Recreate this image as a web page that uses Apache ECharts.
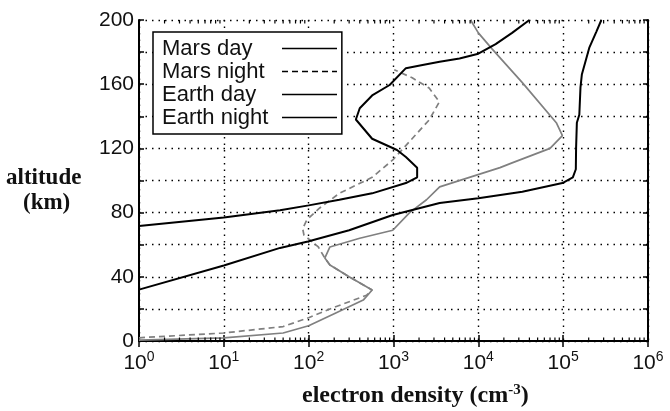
<!DOCTYPE html>
<html><head><meta charset="utf-8">
<script src="https://cdn.jsdelivr.net/npm/echarts@6/dist/echarts.min.js"></script>
<style>html,body{margin:0;padding:0;background:#fff}#c{width:670px;height:411px}</style>
</head><body><div id="c"></div>
<script>
// ---- data (electron density cm^-3, altitude km) ----
const seriesNames = ['Mars day', 'Mars night', 'Earth day', 'Earth night'];
const marsDay = [[1,0.5],[10,2],[50,5],[100,9.5],[200,17],[440,25.5],[560,31.8],[300,40],[178,47.4],[155,51.7],[178,58.6],[400,64],[980,69],[1550,80],[2450,88],[3500,96],[1.8e4,108],[2.5e4,111],[7.0e4,120],[9.8e4,128],[8.3e4,136],[3.3e4,161],[1.45e4,182],[1.0e4,192],[8.1e3,200]];
const marsNight = [[1,2],[10,5],[50,9],[100,14.5],[200,21],[480,28.5],[560,31.8],[300,40],[178,47.4],[155,51.7],[130,58.6],[88,66],[85,70],[95,75.4],[135,82.9],[230,92],[560,102],[980,112.8],[2630,137.7],[3470,149],[2630,157.6],[1660,164],[1020,169]];
const earthDay = [[1,32],[10,47],[46,58],[98,62],[300,69],[980,78.5],[3500,86],[1.0e4,89],[3.3e4,93],[9.8e4,98.4],[1.3e5,102],[1.41e5,107],[1.42e5,120],[1.45e5,136],[1.55e5,141],[1.6e5,158],[1.66e5,166],[2.04e5,183],[2.45e5,192.5],[2.82e5,200]];
const earthNight = [[1,71.6],[10,77],[46,81.5],[100,84.5],[230,88],[560,92],[1400,98.4],[1900,102],[1900,108],[1400,114.6],[1100,119],[560,126],[360,138],[400,145],[560,153],[900,159.5],[1400,170],[2200,172],[3500,174],[6000,176],[1.0e4,179],[1.6e4,185],[2.5e4,192],[4.0e4,200]];
const yLabelValues = [0, 40, 80, 120, 160, 200];
const minorMantissas = [2,3,4,5,6,7,8,9];
const decades = [1,10,100,1000,1e4,1e5];

const minorTicks = [];
decades.forEach(d => minorMantissas.forEach(m => minorTicks.push([m * d, 0])));

const chart = echarts.init(document.getElementById('c'), null, {renderer: 'canvas'});
const gridLine = {show: true, lineStyle: {color: '#000', width: 1.4, type: [1.5, 5]}};
const sans = 'Liberation Sans, Arial, sans-serif';
const serif = 'Liberation Serif, Times New Roman, serif';

const option = {
  animation: false,
  backgroundColor: '#fff',
  grid: {left: 139, right: 22, top: 20, bottom: 70, containLabel: false},
  xAxis: [{
    type: 'log', logBase: 10, min: 1, max: 1e6, splitNumber: 6,
    axisLine: {show: true, lineStyle: {color: '#000', width: 2}},
    axisTick: {show: true, inside: true, length: 6, lineStyle: {color: '#000', width: 1.5}},
    splitLine: gridLine,
    axisLabel: {
      margin: 9, color: '#111',
      formatter: v => '{b|10}{s|' + Math.round(Math.log10(v)) + '}',
      rich: {
        b: {fontSize: 21, fontFamily: sans, color: '#111'},
        s: {fontSize: 14, fontFamily: sans, color: '#111', padding: [0, 0, 12, 0]}
      }
    }
  }, {
    type: 'log', logBase: 10, min: 1, max: 1e6, splitNumber: 6, position: 'top',
    axisLine: {show: true, lineStyle: {color: '#000', width: 2}},
    axisTick: {show: true, inside: true, length: 6, lineStyle: {color: '#000', width: 1.5}},
    splitLine: {show: false}, axisLabel: {show: false}
  }],
  yAxis: [{
    type: 'value', min: 0, max: 200, interval: 20,
    axisLine: {show: true, lineStyle: {color: '#000', width: 2}},
    axisTick: {show: true, inside: true, length: 5, lineStyle: {color: '#000', width: 1.5}},
    splitLine: gridLine,
    axisLabel: {
      margin: 5, fontSize: 21, fontFamily: sans, color: '#111',
      formatter: v => yLabelValues.includes(v) ? String(v) : ''
    }
  }, {
    type: 'value', min: 0, max: 200, interval: 20, position: 'right',
    axisLine: {show: true, lineStyle: {color: '#000', width: 2}},
    axisTick: {show: true, inside: true, length: 5, lineStyle: {color: '#000', width: 1.5}},
    splitLine: {show: false}, axisLabel: {show: false}
  }],
  legend: {
    orient: 'vertical', left: 153, top: 32, align: 'right',
    data: seriesNames,
    backgroundColor: '#fff', borderColor: '#000', borderWidth: 1.5,
    padding: [5, 4, 5, 9], itemGap: 0, itemWidth: 55, itemHeight: 14,
    lineStyle: {color: '#000', width: 1.7},
    itemStyle: {opacity: 0},
    formatter: name => '{t|' + name + '}',
    textStyle: {
      fontSize: 22, fontFamily: sans, color: '#111', lineHeight: 23,
      rich: {t: {width: 115, align: 'left', fontSize: 22, fontFamily: sans, color: '#111', lineHeight: 23}}
    }
  },
  graphic: [
    {type: 'text', left: 6, top: 167, style: {text: 'altitude', font: 'bold 23px ' + serif, fill: '#111'}},
    {type: 'text', left: 23, top: 192, style: {text: '(km)', font: 'bold 23px ' + serif, fill: '#111'}},
    {type: 'text', left: 302, top: 383, style: {
      text: 'electron density (cm{sup|-3})',
      font: 'bold 24px ' + serif, fill: '#111',
      rich: {sup: {fontSize: 15, fontWeight: 'bold', fontFamily: serif, color: '#111', padding: [0, 0, 10, 0]}}
    }}
  ],
  series: [
    {name: 'Mars day', type: 'line', data: marsDay, symbol: 'none', lineStyle: {color: '#808080', width: 1.7}, itemStyle: {color: '#808080'}, z: 3},
    {name: 'Mars night', type: 'line', data: marsNight, symbol: 'none', lineStyle: {color: '#808080', width: 1.7, type: [6, 4]}, itemStyle: {color: '#808080'}, z: 3},
    {name: 'Earth day', type: 'line', data: earthDay, symbol: 'none', lineStyle: {color: '#000', width: 2}, itemStyle: {color: '#000'}, z: 4},
    {name: 'Earth night', type: 'line', data: earthNight, symbol: 'none', lineStyle: {color: '#000', width: 2}, itemStyle: {color: '#000'}, z: 4},
    {
      type: 'custom', name: 'minor', silent: true, clip: false, z: 6,
      data: minorTicks, encode: {x: 0, y: 1},
      renderItem: function (params, api) {
        const b = api.coord([api.value(0), 0]);
        const t = api.coord([api.value(0), 200]);
        return {type: 'group', children: [
          {type: 'line', shape: {x1: b[0], y1: b[1], x2: b[0], y2: b[1] - 3.5}, style: {stroke: '#000', lineWidth: 1.2}},
          {type: 'line', shape: {x1: t[0], y1: t[1], x2: t[0], y2: t[1] + 3.5}, style: {stroke: '#000', lineWidth: 1.2}}
        ]};
      }
    }
  ]
};
chart.setOption(option);
</script>
</body></html>
